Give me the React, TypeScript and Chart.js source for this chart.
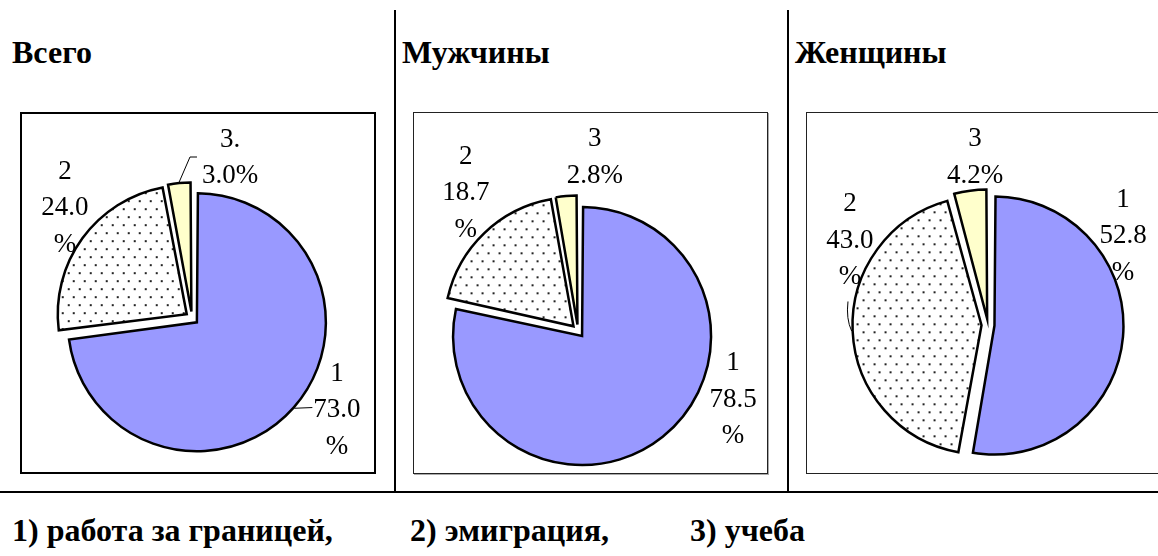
import React, { useEffect, useRef } from 'react';
import { Chart, registerables } from 'chart.js';

Chart.register(...registerables);

// ---- data ----
const SLICE_NAMES = ['1', '2', '3'];
const TOTAL_NAMES = ['1', '2', '3.'];
const TOTAL_VALUES = [73.0, 24.0, 3.0];
const MEN_VALUES = [78.5, 18.7, 2.8];
const WOMEN_VALUES = [52.8, 43.0, 4.2];
const PANEL_TITLES = ['Всего', 'Мужчины', 'Женщины'];
const LEGEND_ITEMS = ['1) работа за границей,', '2) эмиграция,', '3) учеба'];

// ---- layout / style ----
const SERIF = "'Liberation Serif', 'Times New Roman', serif";
const BLUE = '#9999FF';
const YELLOW = '#FFFFCC';
const PIE_R = 129;
const EXPLODE = 6.5; // px translation of each slice
const CANVAS_SIZE = 440;
const LABEL_FONT = `27px ${SERIF}`;
const LABEL_LH = 36.5;

type LabelLayout = { nudge: number; dist: number; leader?: 'straight' | 'elbow' | 'up' };
type PanelLayout = { cx: number; cy: number; labels: LabelLayout[] };

const PANEL_LAYOUT: PanelLayout[] = [
  {
    cx: 192, cy: 318,
    labels: [
      { nudge: -9.7, dist: 170.4, leader: 'straight' },
      { nudge: 5.5, dist: 169.7 },
      { nudge: 18.6, dist: 166.9, leader: 'elbow' },
    ],
  },
  {
    cx: 578, cy: 331,
    labels: [
      { nudge: -28.1, dist: 168.7 },
      { nudge: 5.1, dist: 179.7 },
      { nudge: 10.5, dist: 176.8 },
    ],
  },
  {
    cx: 988, cy: 325,
    labels: [
      { nudge: -39.1, dist: 163 },
      { nudge: 34.6, dist: 162.9, leader: 'up' },
      { nudge: 3.2, dist: 170.5 },
    ],
  },
];

function labelLines(name: string, v: number): string[] {
  const s = v.toFixed(1);
  return v >= 10 ? [name, s, '%'] : [name, s + '%'];
}

function makeDotPattern(): CanvasPattern | string {
  const c = document.createElement('canvas');
  c.width = 22;
  c.height = 16;
  const g = c.getContext('2d');
  if (!g) return '#ffffff';
  g.fillStyle = '#ffffff';
  g.fillRect(0, 0, 22, 16);
  g.fillStyle = '#222222';
  const dots = [[2, 2], [13, 2], [7, 10], [18, 10]];
  dots.forEach(([x, y]) => g.fillRect(x, y, 2, 2));
  const p = g.createPattern(c, 'repeat');
  return p || '#ffffff';
}

// keep every slice the same radius while Chart.js' own "offset" explodes it
const radiusFix = {
  id: 'radiusFix',
  beforeDatasetDraw(chart: any, args: any) {
    const meta = args.meta;
    meta.data.forEach((arc: any) => {
      const fix = 1 - Math.sin(Math.min(Math.PI, arc.circumference || 0));
      arc.outerRadius = PIE_R - EXPLODE * fix;
    });
  },
};

const sliceLabels = {
  id: 'sliceLabels',
  afterDatasetsDraw(chart: any, _args: any, opts: any) {
    const ctx = chart.ctx as CanvasRenderingContext2D;
    const meta = chart.getDatasetMeta(0);
    const layout: LabelLayout[] = opts.layout || [];
    const lines: string[][] = opts.lines || [];
    meta.data.forEach((arc: any, i: number) => {
      const { x, y, startAngle, endAngle } = arc;
      const mid = (startAngle + endAngle) / 2;
      const lay = layout[i];
      if (!lay) return;
      const a = mid + (lay.nudge * Math.PI) / 180;
      const lx = x + Math.cos(a) * lay.dist;
      const ly = y + Math.sin(a) * lay.dist;
      const ls = lines[i] || [];
      ctx.save();
      ctx.font = LABEL_FONT;
      ctx.fillStyle = '#000';
      ctx.textAlign = 'center';
      ctx.textBaseline = 'alphabetic';
      const baselines: number[] = [];
      ls.forEach((s, k) => {
        const by = ly + (k - (ls.length - 1) / 2) * LABEL_LH + 9.5;
        baselines.push(by);
        ctx.fillText(s, lx, by);
      });
      if (lay.leader) {
        const w = Math.max(...ls.map((s) => ctx.measureText(s).width));
        const left = lx - w / 2;
        const sx = x + Math.cos(mid) * (EXPLODE + PIE_R + 1);
        const sy = y + Math.sin(mid) * (EXPLODE + PIE_R + 1);
        ctx.strokeStyle = '#000';
        ctx.lineWidth = 1;
        ctx.beginPath();
        ctx.moveTo(sx, sy);
        if (lay.leader === 'straight') {
          ctx.lineTo(left - 1, ly);
        } else if (lay.leader === 'elbow') {
          ctx.lineTo(left - 12, ly + 1.5);
          ctx.lineTo(left - 5, ly + 1.5);
        } else if (lay.leader === 'up') {
          ctx.quadraticCurveTo(lx - 4, sy - 12, lx - 2, baselines[baselines.length - 1] + 17);
        }
        ctx.stroke();
      }
      ctx.restore();
    });
  },
};

function PiePanel({ values, names, layout }: { values: number[]; names: string[]; layout: PanelLayout }) {
  const ref = useRef<HTMLCanvasElement | null>(null);
  useEffect(() => {
    const canvas = ref.current;
    if (!canvas) return;
    const pattern = makeDotPattern();
    const chart = new Chart(canvas, {
      type: 'pie',
      data: {
        labels: names,
        datasets: [
          {
            data: values,
            backgroundColor: [BLUE, pattern as any, YELLOW],
            borderColor: '#000000',
            borderWidth: 2.5,
            borderJoinStyle: 'miter',
            offset: EXPLODE * 4,
            radius: PIE_R,
          } as any,
        ],
      },
      options: {
        responsive: false,
        animation: false,
        events: [],
        layout: { padding: 0 },
        plugins: {
          legend: { display: false },
          tooltip: { enabled: false },
          sliceLabels: {
            layout: layout.labels,
            lines: values.map((v, i) => labelLines(names[i], v)),
          },
        } as any,
      },
      plugins: [radiusFix, sliceLabels],
    });
    return () => chart.destroy();
  }, []);
  return (
    <canvas
      ref={ref}
      width={CANVAS_SIZE}
      height={CANVAS_SIZE}
      style={{
        position: 'absolute',
        left: layout.cx - CANVAS_SIZE / 2,
        top: layout.cy - CANVAS_SIZE / 2,
        width: CANVAS_SIZE,
        height: CANVAS_SIZE,
      }}
    />
  );
}

const textStyle: React.CSSProperties = {
  position: 'absolute',
  fontFamily: SERIF,
  fontWeight: 'bold',
  fontSize: 32,
  lineHeight: '30px',
  whiteSpace: 'nowrap',
  color: '#000',
};

export default function App() {
  const titleX = [12, 402, 795];
  const legendX = [12, 410, 690];
  return (
    <div
      style={{
        position: 'absolute',
        left: 0,
        top: 0,
        width: 1158,
        height: 556,
        background: '#fff',
        overflow: 'hidden',
      }}
    >
      {/* boxes */}
      <div style={{ position: 'absolute', left: 20, top: 112, width: 356, height: 362, border: '2px solid #000', boxSizing: 'border-box' }} />
      <div style={{ position: 'absolute', left: 413, top: 112, width: 355, height: 362, border: '1.5px solid #222', boxSizing: 'border-box', boxShadow: '1px 1px 0 #aaa' }} />
      <div style={{ position: 'absolute', left: 806, top: 112, width: 380, height: 362, border: '1.5px solid #222', boxSizing: 'border-box' }} />
      {/* dividers */}
      <div style={{ position: 'absolute', left: 394, top: 10, width: 1.5, height: 482, background: '#000' }} />
      <div style={{ position: 'absolute', left: 787, top: 10, width: 1.5, height: 482, background: '#000' }} />
      <div style={{ position: 'absolute', left: 0, top: 491, width: 1158, height: 2, background: '#000' }} />
      {/* titles */}
      {PANEL_TITLES.map((t, i) => (
        <div key={t} style={{ ...textStyle, left: titleX[i], top: 37 }}>{t}</div>
      ))}
      {/* legend */}
      {LEGEND_ITEMS.map((t, i) => (
        <div key={t} style={{ ...textStyle, left: legendX[i], top: 515 }}>{t}</div>
      ))}
      <PiePanel values={TOTAL_VALUES} names={TOTAL_NAMES} layout={PANEL_LAYOUT[0]} />
      <PiePanel values={MEN_VALUES} names={SLICE_NAMES} layout={PANEL_LAYOUT[1]} />
      <PiePanel values={WOMEN_VALUES} names={SLICE_NAMES} layout={PANEL_LAYOUT[2]} />
    </div>
  );
}
